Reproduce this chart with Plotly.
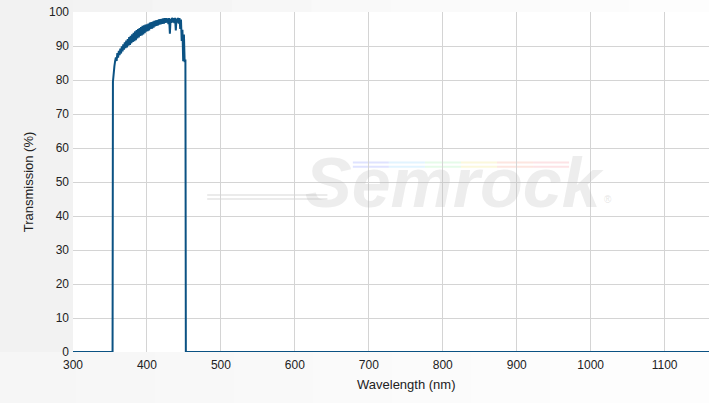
import plotly.graph_objects as go

# Wavelength (nm) and transmission (%)
wavelength = [300, 353.5, 354, 355, 356, 357, 358, 359, 360, 361, 362, 363, 364, 365, 366, 367, 368, 369,
              370, 371, 372, 373, 374, 375, 376, 377, 378, 379, 380, 381, 382, 383, 384, 385, 386, 387,
              388, 389, 390, 391, 392, 393, 394, 395, 396, 397, 398, 399, 400, 401, 402, 403, 404, 405,
              406, 407, 408, 409, 410, 411, 412, 413, 414, 415, 416, 417, 418, 419, 420, 421, 422, 423,
              424, 425, 426, 427, 428, 429, 430, 431, 432, 433, 434, 435, 436, 437, 438, 439, 440, 441,
              442, 443, 444, 445, 446, 447, 448, 449, 450, 451, 452, 452.6, 1160]
transmission = [0, 0, 79.5, 82.6, 84.1, 85.6, 86.6, 85.6, 87.9, 86.6, 88.6, 87.3, 89.2, 87.8, 89.9, 88.4, 90.5, 88.9,
                91.1, 89.4, 91.6, 89.6, 92.0, 90.1, 92.6, 90.3, 93.0, 90.8, 93.4, 91.2, 93.9, 91.4, 94.3, 91.7, 94.7, 92.2,
                95.0, 92.5, 95.3, 93.0, 95.6, 93.1, 95.9, 93.4, 96.1, 93.8, 96.3, 94.2, 96.4, 94.4, 96.6, 94.6, 96.9, 95.0,
                97.0, 95.1, 97.2, 95.4, 97.4, 95.8, 97.5, 95.9, 97.6, 96.1, 97.8, 96.3, 97.9, 96.4, 98.0, 96.5, 98.1, 96.6,
                98.2, 96.8, 98.2, 96.9, 98.1, 96.4, 98.2, 93.6, 98.0, 96.8, 98.3, 97.0, 98.2, 96.7, 98.3, 94.6, 98.1, 96.9,
                98.3, 96.6, 98.2, 95.0, 97.8, 91.5, 94.8, 85.5, 93.4, 85.2, 86.0, 0, 0]

x_ticks = [300, 400, 500, 600, 700, 800, 900, 1000, 1100]
y_ticks = [0, 10, 20, 30, 40, 50, 60, 70, 80, 90, 100]

font_family = "Liberation Sans, Arial, sans-serif"

fig = go.Figure()
fig.add_trace(go.Scatter(
    x=wavelength, y=transmission, mode="lines",
    line=dict(color="#0b5283", width=2),
    hoverinfo="x+y", showlegend=False,
))

shapes = []
# background gradient in margins only (paper referenced)
shapes.append(dict(type="rect", xref="paper", yref="paper", x0=-0.12, x1=0, y0=0, y1=1.04,
                   fillcolor="#f2f2f2", line=dict(width=0), layer="below"))
top_cols = ["#f3f3f3", "#f5f5f5", "#f7f7f7", "#f9f9f9", "#fafafa", "#fbfbfb", "#fcfcfc", "#fdfdfd"]
n = len(top_cols)
for i, c in enumerate(top_cols):
    shapes.append(dict(type="rect", xref="paper", yref="paper", x0=i / n, x1=(i + 1) / n + 0.002,
                       y0=1.0, y1=1.04, fillcolor=c, line=dict(width=0), layer="below"))
bot_cols = ["#f6f6f6", "#f7f7f7", "#f8f8f8", "#f9f9f9", "#fafafa", "#fbfbfb", "#fcfcfc", "#fdfdfd", "#fdfdfd"]
n = len(bot_cols)
for i, c in enumerate(bot_cols):
    x0 = -0.12 + i * (1.12 / n)
    shapes.append(dict(type="rect", xref="paper", yref="paper", x0=x0, x1=x0 + 1.12 / n + 0.002,
                       y0=-0.16, y1=0, fillcolor=c, line=dict(width=0), layer="below"))
# watermark swoosh lines
for yv in (0.462, 0.450):
    shapes.append(dict(type="line", xref="x domain", yref="y domain", x0=0.211, x1=0.40, y0=yv, y1=yv,
                       line=dict(color="#e4e4e4", width=1.5), layer="below"))
rainbow = ["#dfe3ff", "#e2f4ff", "#e6fbe9", "#fbf8dc", "#fde6e0", "#fde3e6"]
seg = (0.78 - 0.44) / len(rainbow)
for i, c in enumerate(rainbow):
    for yv in (0.557, 0.545):
        shapes.append(dict(type="line", xref="x domain", yref="y domain",
                           x0=0.44 + i * seg, x1=0.44 + (i + 1) * seg, y0=yv, y1=yv,
                           line=dict(color=c, width=2), layer="below"))

fig.update_layout(
    width=709, height=403,
    margin=dict(l=73, r=0, t=12, b=51),
    paper_bgcolor="#fdfdfd",
    plot_bgcolor="white",
    font=dict(family=font_family, size=12, color="#222"),
    shapes=shapes,
    annotations=[
        dict(text="<b><i>Semrock</i></b>", xref="x domain", yref="y domain", x=0.6, y=0.497,
             showarrow=False, font=dict(family="Liberation Sans, Arial", size=70, color="rgba(185,185,185,0.25)")),
        dict(text="®", xref="x domain", yref="y domain", x=0.85, y=0.45,
             showarrow=False, font=dict(family="Liberation Sans, Arial", size=10, color="rgba(190,190,190,0.4)")),
        dict(text="Wavelength (nm)", xref="paper", yref="paper", x=0.5236, y=-0.097,
             xanchor="center", yanchor="middle", showarrow=False,
             font=dict(family=font_family, size=13, color="#222")),
    ],
    xaxis=dict(range=[300, 1160], tickvals=x_ticks, ticktext=[str(v) for v in x_ticks],
               showgrid=True, gridcolor="#d4d4d4", gridwidth=1, zeroline=False,
               showline=False, ticks="", ticklabelstandoff=4, tickfont=dict(size=12, color="#222")),
    yaxis=dict(range=[0, 100], tickvals=y_ticks, ticktext=[str(v) for v in y_ticks],
               showgrid=True, gridcolor="#d4d4d4", gridwidth=1, zeroline=False,
               showline=False, ticks="", ticklabelstandoff=3, tickfont=dict(size=12, color="#222"),
               title=dict(text="Transmission (%)", font=dict(size=13, color="#222"), standoff=12)),
)

fig.write_html("out.html", config={"displayModeBar": False},
               post_script="document.body.style.margin='0';document.body.style.overflow='hidden';")
